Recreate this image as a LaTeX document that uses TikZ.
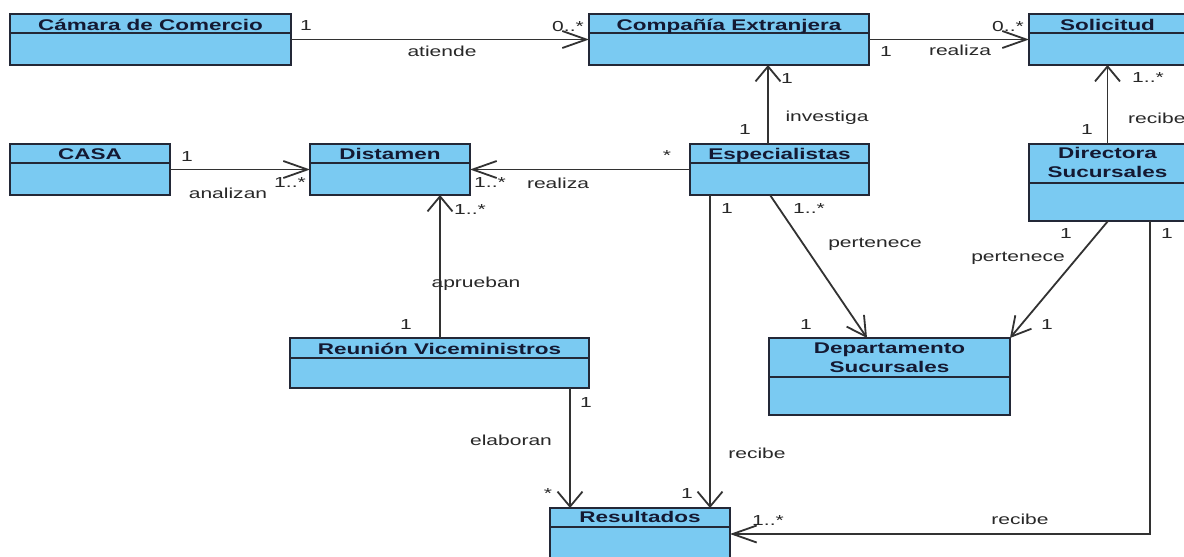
\documentclass[tikz,border=0pt]{standalone}
\usepackage{fontspec}
\setmainfont{Liberation Sans}
\newfontfamily\clsfont[FakeStretch=1.45]{Liberation Sans}
\newfontfamily\lblfont[FakeStretch=1.45]{Liberation Sans}
\usetikzlibrary{arrows.meta}
\definecolor{clsfill}{RGB}{122,202,242}
\definecolor{clsdraw}{RGB}{35,40,55}
\definecolor{clstext}{RGB}{20,25,50}
\definecolor{linecol}{RGB}{50,50,50}
\definecolor{lbltext}{RGB}{40,40,40}
\tikzset{
  clsbox/.style={draw=clsdraw, fill=clsfill, line width=1.8pt, inner sep=0pt, outer sep=0pt, anchor=north west},
  clsdiv/.style={draw=clsdraw, line width=1.5pt},
  clstitle/.style={font=\clsfont\bfseries\fontsize{15.5}{19}\selectfont, text=clstext, align=center, inner sep=0pt},
  lbl/.style={font=\lblfont\fontsize{14.5}{16}\selectfont, text=lbltext, inner sep=0pt},
  assoc/.style={draw=linecol, line width=1.8pt},
  harr/.style={-{Straight Barb[length=24pt,width=17pt]}},
  varr/.style={-{Straight Barb[length=15pt,width=25pt]}},
  darr/.style={-{Straight Barb[length=19pt,width=21pt]}}
}
\newcommand\umlbox[6]{%
  \node[clsbox, minimum width={(#4-#2)*1pt}, minimum height={(#6-#3)*1pt}] (#1) at (#2,#3) {};
  \draw[clsdiv] (#1.west |- 0,#5) -- (#1.east |- 0,#5);
}
\begin{document}
\begin{tikzpicture}[x=1pt, y=-1pt]
\useasboundingbox (0,0) rectangle (1184,557);
\clip (0,0) rectangle (1184,557);
\fill[white] (0,0) rectangle (1184,557);

% classes
\umlbox{camara}{10}{14}{291}{33}{65}
\node[clstitle, anchor=base] (camara-t) at (150.5,30) {Cámara de Comercio};
\umlbox{compania}{589}{14}{869}{33}{65}
\node[clstitle, anchor=base] (compania-t) at (729,30) {Compañía Extranjera};
\umlbox{solicitud}{1029}{14}{1186}{33}{65}
\node[clstitle, anchor=base] (solicitud-t) at (1107.5,30) {Solicitud};
\umlbox{casa}{10}{144}{170}{163}{195}
\node[clstitle, anchor=base] (casa-t) at (90,159.5) {CASA};
\umlbox{distamen}{310}{144}{470}{163}{195}
\node[clstitle, anchor=base] (distamen-t) at (390,159.5) {Distamen};
\umlbox{especialistas}{690}{144}{869}{163}{195}
\node[clstitle, anchor=base] (especialistas-t) at (779.5,159.5) {Especialistas};
\umlbox{directora}{1029}{144}{1186}{183}{221}
\node[clstitle] (directora-t) at (1107.5,162.5) {Directora\\Sucursales};
\umlbox{reunion}{290}{338}{589}{358}{388}
\node[clstitle, anchor=base] (reunion-t) at (439.5,354) {Reunión Viceministros};
\umlbox{departamento}{769}{338}{1010}{377}{415}
\node[clstitle] (departamento-t) at (889.5,357.5) {Departamento\\Sucursales};
\umlbox{resultados}{550}{508}{730}{527}{560}
\node[clstitle, anchor=base] (resultados-t) at (640,522.5) {Resultados};

% connectors
\draw[assoc, harr] (camara.east) -- (compania.west);
\draw[assoc, harr] (compania.east) -- (solicitud.west);
\draw[assoc, harr] (casa.east) -- (distamen.west);
\draw[assoc, harr] (especialistas.west) -- (distamen.east);
\draw[assoc, varr] (especialistas.north -| 768,0) -- (compania.south -| 768,0);
\draw[assoc, varr] (directora.north) -- (solicitud.south);
\draw[assoc, varr] (reunion.north -| 440,0) -- (distamen.south -| 440,0);
\draw[assoc, varr] (reunion.south -| 570,0) -- (resultados.north -| 570,0);
\draw[assoc, varr] (especialistas.south -| 710,0) -- (resultados.north -| 710,0);
\draw[assoc, darr] (especialistas.south -| 770,0) -- (departamento.north -| 867,0);
\draw[assoc, darr] (directora.south -| 1108,0) -- (departamento.north east);
\draw[assoc, harr] (directora.south -| 1150,0) |- (resultados.east);

% labels
\node[lbl] (l1) at (306,26) {1};
\node[lbl] (l2) at (568,27) {0..*};
\node[lbl] (l3) at (442,51) {atiende};
\node[lbl] (l4) at (886,52) {1};
\node[lbl] (l5) at (960,50) {realiza};
\node[lbl] (l6) at (1008,27) {0..*};
\node[lbl] (l7) at (787,79) {1};
\node[lbl] (l8) at (745,130) {1};
\node[lbl] (l9) at (827,118) {investiga};
\node[lbl] (l10) at (1148,78) {1..*};
\node[lbl] (l11) at (1087,130) {1};
\node[lbl, anchor=west] (l12) at (1128,118) {recibe};
\node[lbl] (l13) at (187,157) {1};
\node[lbl] (l14) at (228,193) {analizan};
\node[lbl] (l15) at (290,183) {1..*};
\node[lbl] (l16) at (667,156) {*};
\node[lbl] (l17) at (490,183) {1..*};
\node[lbl] (l18) at (558,183) {realiza};
\node[lbl] (l19) at (470,210) {1..*};
\node[lbl] (l20) at (476,284) {aprueban};
\node[lbl] (l21) at (406,325) {1};
\node[lbl] (l22) at (727,209) {1};
\node[lbl] (l23) at (757,453) {recibe};
\node[lbl] (l24) at (687,494) {1};
\node[lbl] (l25) at (809,209) {1..*};
\node[lbl] (l26) at (875,244) {pertenece};
\node[lbl] (l27) at (806,325) {1};
\node[lbl] (l28) at (1066,234) {1};
\node[lbl] (l29) at (1018,258) {pertenece};
\node[lbl] (l30) at (1047,325) {1};
\node[lbl] (l31) at (1167,234) {1};
\node[lbl] (l32) at (768,521) {1..*};
\node[lbl] (l33) at (1020,519) {recibe};
\node[lbl] (l34) at (586,403) {1};
\node[lbl] (l35) at (511,440) {elaboran};
\node[lbl] (l36) at (548,494) {*};
\end{tikzpicture}
\end{document}
